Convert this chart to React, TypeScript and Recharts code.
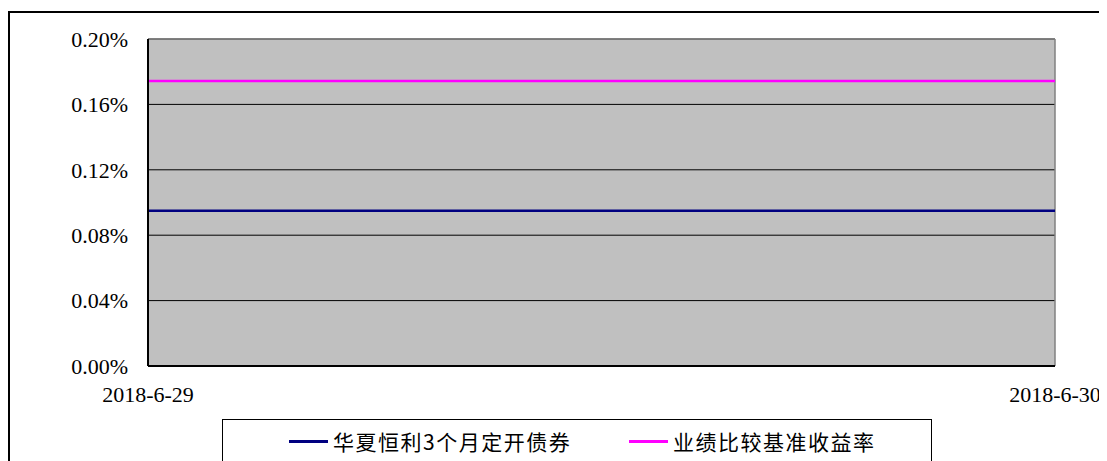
import React from 'react';
import { LineChart, Line, XAxis, YAxis, CartesianGrid, ReferenceLine, Legend } from 'recharts';

const dates = ['2018-6-29', '2018-6-30'];
const fundValues = [0.095, 0.095];
const benchmarkValues = [0.1743, 0.1743];
const yTicks = [0, 0.04, 0.08, 0.12, 0.16, 0.2];

const fundName = '华夏恒利3个月定开债券';
const benchmarkName = '业绩比较基准收益率';
const seriesOrder = ['fund', 'bench'];

const data = dates.map((d, i) => ({ date: d, fund: fundValues[i], bench: benchmarkValues[i] }));

const serif = '"Liberation Serif", "Times New Roman", serif';
const cjk = '"Noto Sans CJK SC", "Noto Sans", sans-serif';

const LegendBox = (props: any) => {
    const items = [...(props.payload || [])].sort(
        (a: any, b: any) => seriesOrder.indexOf(a.dataKey) - seriesOrder.indexOf(b.dataKey)
    );
    const starts = [66, 406];
    return (
        <div style={{ position: 'relative', width: 710, height: 60, border: '1px solid #000', background: '#fff', boxSizing: 'border-box' }}>
            {items.map((it: any, i: number) => (
                <div key={i} style={{ position: 'absolute', left: starts[i], top: 6, display: 'flex', alignItems: 'center', fontFamily: cjk, fontSize: 21, letterSpacing: 1.5, color: '#000', whiteSpace: 'nowrap' }}>
                    <span style={{ display: 'inline-block', width: 39, height: 3, background: it.color, marginRight: 5 }} />
                    <span>{it.value}</span>
                </div>
            ))}
        </div>
    );
};

const App: React.FC = () => {
    return (
        <div style={{ position: 'relative', width: 1099, height: 453, overflow: 'hidden', background: '#fff' }}>
            <div style={{ position: 'absolute', left: 0, top: 3, width: 1130, height: 500, border: '2px solid #000', boxSizing: 'border-box' }} />
            <div style={{ position: 'absolute', left: 0, top: 0 }}>
                <LineChart width={1099} height={453} data={data} margin={{ top: 31, right: 52, left: 60, bottom: 55 }}>
                    <CartesianGrid vertical={false} stroke="#000" fill="#C0C0C0" fillOpacity={1} />
                    <ReferenceLine y={0.2} stroke="#808080" strokeWidth={1.5} />
                    <ReferenceLine x="2018-6-30" stroke="#808080" strokeWidth={1.5} />
                    <XAxis
                        dataKey="date"
                        height={40}
                        tickLine={false}
                        tickSize={0}
                        tickMargin={20}
                        stroke="#000"
                        strokeWidth={2}
                        tick={{ fill: '#000', fontFamily: serif, fontSize: 22 }}
                        interval={0}
                    />
                    <YAxis
                        width={80}
                        domain={[0, 0.2]}
                        ticks={yTicks}
                        tickFormatter={(v: number) => v.toFixed(2) + '%'}
                        tickLine={false}
                        tickSize={6}
                        tickMargin={14}
                        stroke="#000"
                        strokeWidth={2}
                        tick={{ fill: '#000', fontFamily: serif, fontSize: 22 }}
                        interval={0}
                    />
                    <Legend
                        verticalAlign="middle"
                        layout="horizontal"
                        content={<LegendBox />}
                        wrapperStyle={{ left: 214, top: 411, width: 710, height: 60 }}
                    />
                    <Line name={fundName} dataKey="fund" stroke="#000080" strokeWidth={2.5} dot={false} isAnimationActive={false} />
                    <Line name={benchmarkName} dataKey="bench" stroke="#FF00FF" strokeWidth={2.5} dot={false} isAnimationActive={false} />
                </LineChart>
            </div>
        </div>
    );
};

export default App;
